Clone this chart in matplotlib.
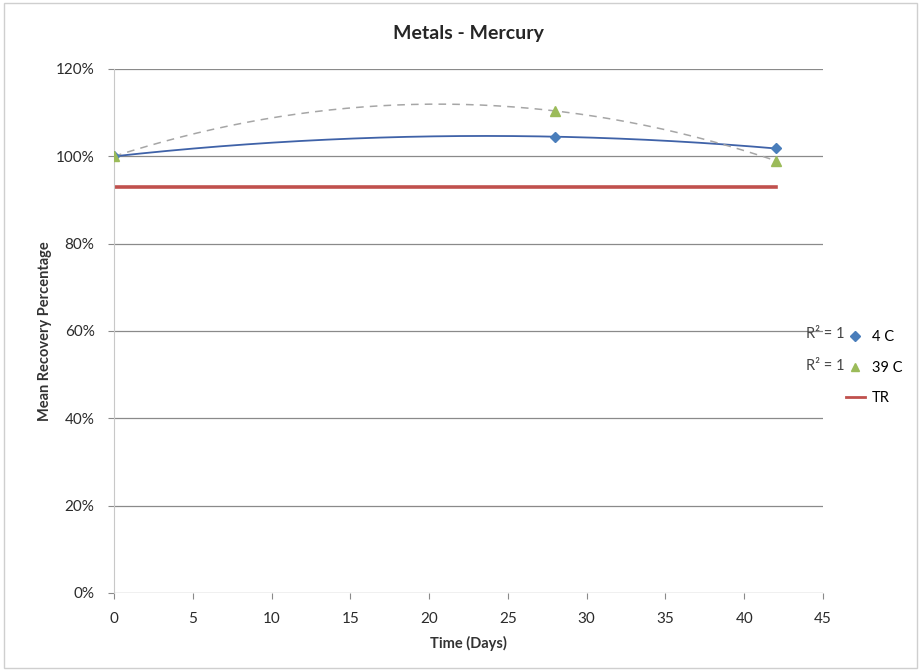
import numpy as np
import matplotlib.pyplot as plt
from matplotlib.lines import Line2D
from matplotlib.patches import Rectangle

plt.rcParams['font.family'] = ['Lato', 'DejaVu Sans']

# values (percent recovery vs. days)
days_4c = [0, 28, 42]
rec_4c = [100.0, 104.5, 101.8]
days_39c = [0, 28, 42]
rec_39c = [100.0, 110.4, 99.0]
days_tr = [0, 42]
rec_tr = [93.0, 93.0]

x_ticks = [0, 5, 10, 15, 20, 25, 30, 35, 40, 45]
y_ticks = [0, 20, 40, 60, 80, 100, 120]

fig = plt.figure(figsize=(9.21, 6.71), dpi=100)
ax = fig.add_axes([114/921, 78/671, 709/921, 524/671])

# grid
for yv in y_ticks:
    ax.axhline(yv, color='#8a8a8a', lw=0.9, zorder=1)

# TR line
ax.plot(days_tr, rec_tr, color='#c0504d', lw=2.6, zorder=2)

# 2nd order trendlines (R^2 = 1 with three points)
xx = np.linspace(0, 42, 200)
p4 = np.polyfit(days_4c, rec_4c, 2)
p39 = np.polyfit(days_39c, rec_39c, 2)
ax.plot(xx, np.polyval(p4, xx), color='#3f62a8', lw=1.3, zorder=3)
ax.plot(xx, np.polyval(p39, xx), color='#a6a6a6', lw=1.1, ls=(0, (5, 4)), zorder=3)

# markers
ax.plot(days_4c, rec_4c, ls='none', marker='D', ms=5.5, color='#4a7ebb', zorder=5)
ax.plot(days_39c, rec_39c, ls='none', marker='^', ms=6.5, color='#9bbb59', zorder=5)

ax.set_xlim(0, 45)
ax.set_ylim(0, 120)
ax.set_xticks(x_ticks)
ax.set_yticks(y_ticks)
ax.set_yticklabels(['%d%%' % v for v in y_ticks])
ax.tick_params(axis='both', labelsize=11, colors='#8a8a8a', labelcolor='#2b2b2b',
               length=4, width=0.8, direction='out')
ax.tick_params(axis='x', pad=10)
ax.tick_params(axis='y', pad=10)
for s in ['top', 'right', 'bottom']:
    ax.spines[s].set_visible(False)
ax.spines['left'].set_color('#c8c8c8')
ax.spines['left'].set_linewidth(0.8)

fig.text(468/921, 1 - 33/671, 'Metals - Mercury', ha='center', va='center',
         fontsize=14, fontweight='bold', color='#262626')
fig.text(468/921, 1 - 643/671, 'Time (Days)', ha='center', va='center',
         fontsize=10.5, fontweight='bold', color='#333333')
fig.text(45/921, 1 - 331/671, 'Mean Recovery Percentage', ha='center', va='center',
         rotation=90, fontsize=10.5, fontweight='bold', color='#333333')

# legend
handles = [
    Line2D([], [], ls='none', marker='D', ms=5, color='#4a7ebb'),
    Line2D([], [], ls='none', marker='^', ms=6, color='#9bbb59'),
    Line2D([], [], color='#c0504d', lw=2),
]
fig.legend(handles, ['4 C', '39 C', 'TR'], loc='upper left',
           bbox_to_anchor=(840/921, 1 - 324/671), frameon=False, fontsize=10.5,
           handlelength=1.3, handletextpad=0.5, labelspacing=1.15, borderaxespad=0)
fig.text(806/921, 1 - 334/671, 'R² = 1', ha='left', va='center', fontsize=10.5, color='#444444')
fig.text(806/921, 1 - 366/671, 'R² = 1', ha='left', va='center', fontsize=10.5, color='#444444')

# chart area border
fig.patches.append(Rectangle((0.004, 0.004), 0.992, 0.992, transform=fig.transFigure,
                             fill=False, ec='#cfcfcf', lw=1))

fig.savefig('out.png', dpi=100)
